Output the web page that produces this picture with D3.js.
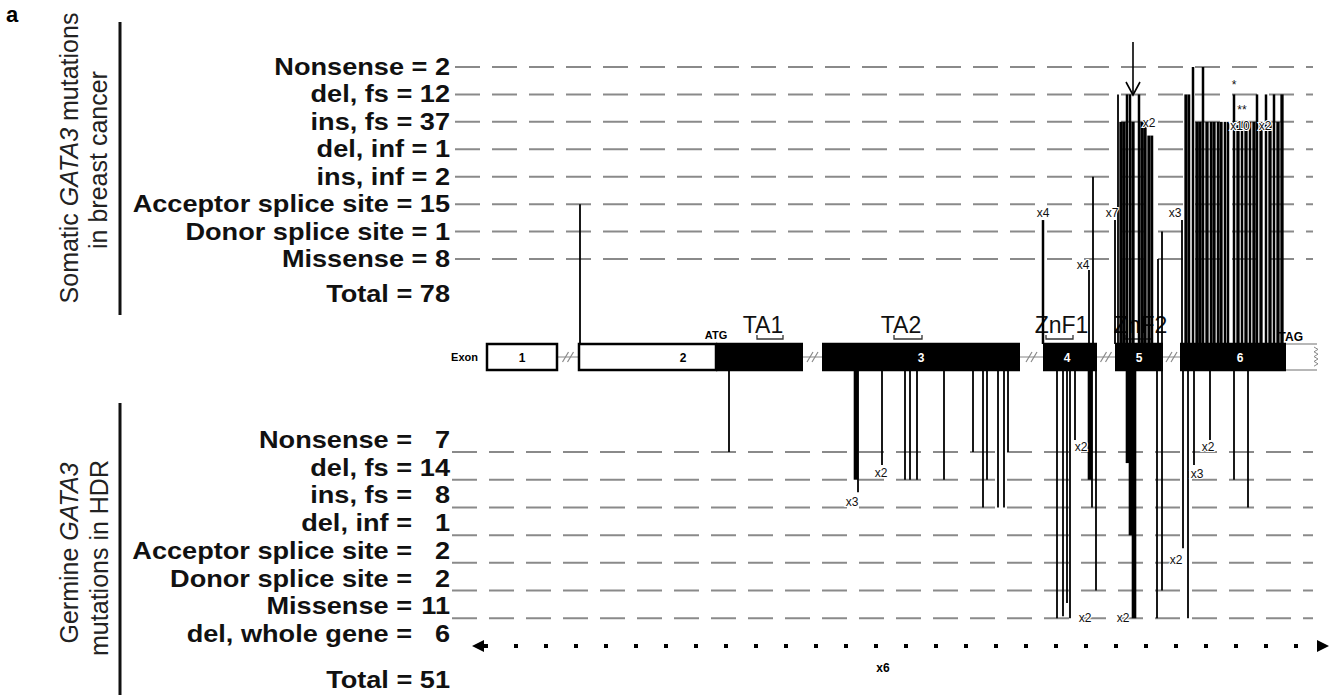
<!DOCTYPE html>
<html>
<head>
<meta charset="utf-8">
<script src="https://cdn.jsdelivr.net/npm/d3@7"></script>
<style>
  body { margin: 0; background: #fff; }
  svg { display: block; font-family: Arial, "Liberation Sans", sans-serif; }
</style>
</head>
<body>
<script>
// mutation classes and counts
const somaticTypes = ["Nonsense", "del, fs", "ins, fs", "del, inf", "ins, inf", "Acceptor splice site", "Donor splice site", "Missense"];
const somaticCounts = [2, 12, 37, 1, 2, 15, 1, 8];
const germlineTypes = ["Nonsense", "del, fs", "ins, fs", "del, inf", "Acceptor splice site", "Donor splice site", "Missense", "del, whole gene"];
const germlineCounts = [7, 14, 8, 1, 2, 2, 11, 6];

// gene structure (position along the drawn gene, 0-830)
const exonNames = ["1", "2", "3", "4", "5", "6"];
const exonStart = [0, 92, 335, 556, 628, 693];
const exonEnd = [70, 316, 533, 610, 676, 830];
const codingStart = [null, 229, 335, 556, 628, 693];
const codingEnd = [null, 316, 533, 610, 676, 799];
const exonLabelPos = [35, 196, 434, 580, 652, 753];

const domainNames = ["TA1", "TA2", "ZnF1", "ZnF2"];
const domainStart = [270, 407, 559, 638];
const domainEnd = [296, 435, 586, 665];

// somatic mutations : position, level reached (1 = Missense ... 8 = Nonsense), number of hits
const somaticPos = [93, 556, 602, 606,
  628, 631, 634, 637, 640, 643, 646, 652, 655, 658, 662, 665, 671, 675,
  695, 699, 702, 706, 710, 713, 716, 720, 724, 727, 731, 734, 738, 741, 747,
  751, 755, 759, 763, 767, 770, 774, 779, 783, 787, 791, 795];
const somaticLevel = [3, 2.42, 0.6, 4,
  2.42, 7, 6, 6, 7, 7, 6, 7, 6, 6, 5.5, 5.5, 1, 2,
  2.42, 7, 7, 8, 6, 6, 8, 6, 6, 6, 6, 6, 6, 6, 7,
  6, 6, 6, 6, 6, 7, 6, 7, 6, 7, 6, 7];
const somaticN = [1, 2, 1, 1,
  1, 1, 3, 3, 2, 2, 3, 2, 3, 3, 3, 2, 1, 1,
  1, 3, 2, 2, 3, 3, 2, 3, 2, 3, 2, 3, 2, 2, 2,
  3, 2, 3, 2, 3, 2, 3, 2, 3, 2, 3, 3];

// germline mutations : position, level reached (1 = Nonsense ... 7 = Missense), number of hits
const germlinePos = [242, 369, 371, 395, 418, 423, 430, 457, 486, 496, 500, 511, 517, 521,
  570, 576, 580, 583, 588, 603, 605, 609,
  641, 644, 647, 670, 675,
  696, 701, 707, 723, 747, 761];
const germlineLevel = [1, 2, 2.45, 1.47, 2, 2, 2, 2, 1, 3, 2, 3, 3, 1,
  7, 6.93, 6.45, 7, 0.57, 2, 3, 6,
  1.4, 4, 7, 7, 6,
  4.47, 7, 1.47, 0.57, 2, 3];
const germlineN = [1, 3, 1, 1, 1, 1, 1, 1, 1, 1, 1, 1, 1, 1,
  1, 1, 1, 1, 1, 3, 1, 1,
  3, 3, 3, 1, 1,
  1, 1, 1, 1, 1, 1];

// recurrence notes
const somaticNotePos = [556, 596, 625, 662, 688, 753, 778, 747, 755];
const somaticNoteLevel = [2.53, 0.64, 2.53, 5.8, 2.53, 5.7, 5.7, 7.2, 6.3];
const somaticNoteText = ["x4", "x4", "x7", "x2", "x3", "x10", "x2", "*", "**"];
const germlineNotePos = [365, 394, 594, 598, 636, 689, 710, 721];
const germlineNoteLevel = [2.95, 1.9, 0.97, 7.14, 7.14, 5.05, 1.94, 0.97];
const germlineNoteText = ["x3", "x2", "x2", "x2", "x2", "x2", "x3", "x2"];

const W = 1338, H = 697;
const svg = d3.select("body").append("svg").attr("width", W).attr("height", H);

const x = d3.scaleLinear().domain([0, 830]).range([487, 1317]);
const yTop = d3.scaleLinear().domain([1, 8]).range([259, 67]);
const yBot = d3.scaleLinear().domain([1, 8]).range([452, 646]);
const barW = d3.scaleOrdinal().domain([1, 2, 3]).range([1.8, 2.5, 3.3]);
const exonTop = 344, exonBot = 370, exonMid = (exonTop + exonBot) / 2;

// panel letter
svg.append("text").attr("x", 6).attr("y", 22).attr("font-size", 22).attr("font-weight", "bold").text("a");

// rotated titles
function rotTitle(cx, cy, parts) {
  let t = svg.append("text")
    .attr("transform", `translate(${cx},${cy}) rotate(-90)`)
    .attr("text-anchor", "middle").attr("font-size", 25).attr("fill", "#222");
  parts.forEach(p => t.append("tspan").attr("font-style", p[1] ? "italic" : null).text(p[0]));
}
rotTitle(78, 158, [["Somatic "], ["GATA3", true], [" mutations"]]);
rotTitle(107, 160, [["in breast cancer"]]);
rotTitle(78, 553, [["Germine "], ["GATA3", true]]);
rotTitle(108, 558, [["mutations in HDR"]]);

svg.append("line").attr("x1", 120).attr("x2", 120).attr("y1", 22).attr("y2", 315).attr("stroke", "#111").attr("stroke-width", 3);
svg.append("line").attr("x1", 120).attr("x2", 120).attr("y1", 403).attr("y2", 695).attr("stroke", "#111").attr("stroke-width", 3);

// dashed reference lines
svg.append("g").selectAll("line").data(d3.range(1, 9)).join("line")
  .attr("x1", 455).attr("x2", 1313)
  .attr("y1", d => yTop(d)).attr("y2", d => yTop(d))
  .attr("stroke", "#8a8a8a").attr("stroke-width", 2).attr("stroke-dasharray", "25 12");
svg.append("g").selectAll("line").data(d3.range(1, 8)).join("line")
  .attr("x1", 452).attr("x2", 1313)
  .attr("y1", d => yBot(d)).attr("y2", d => yBot(d))
  .attr("stroke", "#8a8a8a").attr("stroke-width", 2).attr("stroke-dasharray", "25 12");

// category labels (wide bold type)
const sx = 1.18;
somaticTypes.forEach((t, i) => {
  let g = svg.append("g").attr("transform", `translate(450,${yTop(8 - i) + 8}) scale(${sx},1)`);
  g.append("text").attr("text-anchor", "end").attr("font-size", 23).attr("font-weight", "bold")
    .attr("fill", "#111").text(t + " = " + somaticCounts[i]);
});
svg.append("g").attr("transform", `translate(450,302) scale(${sx},1)`)
  .append("text").attr("text-anchor", "end").attr("font-size", 23).attr("font-weight", "bold")
  .attr("fill", "#111").text("Total = " + d3.sum(somaticCounts));

germlineTypes.forEach((t, i) => {
  let g = svg.append("g").attr("transform", `translate(450,${yBot(i + 1) - 4}) scale(${sx},1)`);
  g.append("text").attr("x", (412 - 450) / sx).attr("text-anchor", "end").attr("font-size", 23)
    .attr("font-weight", "bold").attr("fill", "#111").text(t + " =");
  g.append("text").attr("text-anchor", "end").attr("font-size", 23)
    .attr("font-weight", "bold").attr("fill", "#111").text(germlineCounts[i]);
});
svg.append("g").attr("transform", `translate(450,688) scale(${sx},1)`)
  .append("text").attr("text-anchor", "end").attr("font-size", 23).attr("font-weight", "bold")
  .attr("fill", "#111").text("Total = " + d3.sum(germlineCounts));

// introns with break marks
const gene = svg.append("g");
for (let i = 0; i < exonNames.length - 1; i++) {
  let a = x(exonEnd[i]), b = x(exonStart[i + 1]), m = (a + b) / 2;
  gene.append("line").attr("x1", a).attr("x2", b).attr("y1", exonMid).attr("y2", exonMid)
    .attr("stroke", "#999").attr("stroke-width", 1.2);
  [-2.5, 2.5].forEach(o => gene.append("line")
    .attr("x1", m + o - 3).attr("x2", m + o + 3).attr("y1", exonMid + 5).attr("y2", exonMid - 5)
    .attr("stroke", "#888").attr("stroke-width", 1.2));
}
gene.append("text").attr("x", 478).attr("y", exonMid + 4).attr("text-anchor", "end")
  .attr("font-size", 11).attr("font-weight", "bold").text("Exon");

// domains and codons (drawn before the bars so they sit underneath)
domainNames.forEach((d, i) => {
  let a = x(domainStart[i]), b = x(domainEnd[i]), c = (a + b) / 2;
  gene.append("text").attr("x", c + (i < 2 ? -7 : 2)).attr("y", 333).attr("text-anchor", "middle")
    .attr("font-size", 23).attr("fill", "#111").text(d);
  gene.append("path").attr("d", `M${a},335 V339 H${b} V335`).attr("fill", "none")
    .attr("stroke", "#333").attr("stroke-width", 1.3);
});
gene.append("text").attr("x", x(codingStart[1])).attr("y", 339).attr("text-anchor", "middle")
  .attr("font-size", 11).attr("font-weight", "bold").text("ATG");
gene.append("text").attr("x", x(codingEnd[5]) + 17).attr("y", 341).attr("text-anchor", "end")
  .attr("font-size", 12).attr("font-weight", "bold").text("TAG");

// somatic bars
svg.append("g").selectAll("line")
  .data(somaticPos.map((p, i) => ({ p, lv: somaticLevel[i], n: somaticN[i] })))
  .join("line")
  .attr("x1", d => x(d.p)).attr("x2", d => x(d.p))
  .attr("y1", exonTop).attr("y2", d => yTop(d.lv))
  .attr("stroke", "#000").attr("stroke-width", d => barW(d.n));

// germline bars
svg.append("g").selectAll("line")
  .data(germlinePos.map((p, i) => ({ p, lv: germlineLevel[i], n: germlineN[i] })))
  .join("line")
  .attr("x1", d => x(d.p)).attr("x2", d => x(d.p))
  .attr("y1", exonBot).attr("y2", d => yBot(d.lv))
  .attr("stroke", "#000").attr("stroke-width", d => barW(d.n) * (d.n > 1 ? 1.4 : 1));

// exons
const ex = svg.append("g");
exonNames.forEach((n, i) => {
  let s = exonStart[i], e = exonEnd[i], cs = codingStart[i], ce = codingEnd[i];
  if (cs === null) {
    ex.append("rect").attr("x", x(s)).attr("y", exonTop).attr("width", x(e) - x(s)).attr("height", exonBot - exonTop)
      .attr("fill", "#fff").attr("stroke", "#000").attr("stroke-width", 2.5);
  } else {
    if (cs > s) {
      ex.append("rect").attr("x", x(s)).attr("y", exonTop).attr("width", x(cs) - x(s)).attr("height", exonBot - exonTop)
        .attr("fill", "#fff").attr("stroke", "#000").attr("stroke-width", 2.5);
    }
    ex.append("rect").attr("x", x(cs)).attr("y", exonTop - 1.25).attr("width", x(ce) - x(cs)).attr("height", exonBot - exonTop + 2.5)
      .attr("fill", "#000");
    if (ce < e) {
      // 3' UTR, open ended
      ex.append("line").attr("x1", x(ce)).attr("x2", x(e)).attr("y1", exonTop).attr("y2", exonTop).attr("stroke", "#888").attr("stroke-width", 1.2);
      ex.append("line").attr("x1", x(ce)).attr("x2", x(e)).attr("y1", exonBot).attr("y2", exonBot).attr("stroke", "#888").attr("stroke-width", 1.2);
      let zz = d3.range(0, 9).map(k => [x(e) - 2 + (k % 2 ? 3 : -1), exonTop + 3 + k * 2.4]);
      ex.append("path").attr("d", d3.line()(zz)).attr("fill", "none").attr("stroke", "#888").attr("stroke-width", 1);
    }
  }
  let white = cs === null || exonLabelPos[i] < cs;
  ex.append("text").attr("x", x(exonLabelPos[i])).attr("y", exonMid + 4.5).attr("text-anchor", "middle")
    .attr("font-size", 12).attr("font-weight", "bold").attr("fill", white ? "#000" : "#fff").text(n);
});

// recurrence notes (white halo so they stay readable over the bars)
function notes(texts, pos, levels, yScale) {
  svg.append("g").selectAll("text")
    .data(texts.map((t, i) => ({ t, p: pos[i], lv: levels[i] })))
    .join("text")
    .attr("x", d => x(d.p)).attr("y", d => yScale(d.lv)).attr("text-anchor", "middle")
    .attr("font-size", 12).attr("fill", "#111")
    .attr("stroke", "#fff").attr("stroke-width", 2.2).attr("paint-order", "stroke")
    .text(d => d.t);
}
notes(somaticNoteText, somaticNotePos, somaticNoteLevel, yTop);
notes(germlineNoteText, germlineNotePos, germlineNoteLevel, yBot);

// arrow pointing at the hotspot in exon 5
const hot = x(646);
svg.append("line").attr("x1", hot).attr("x2", hot).attr("y1", 42).attr("y2", 94).attr("stroke", "#000").attr("stroke-width", 1.6);
svg.append("path").attr("d", `M${hot - 7},82 L${hot},95 L${hot + 7},82`).attr("fill", "none").attr("stroke", "#000").attr("stroke-width", 1.6);

// whole gene deletions
const yDel = yBot(8);
svg.append("line").attr("x1", 484).attr("x2", 1318).attr("y1", yDel).attr("y2", yDel)
  .attr("stroke", "#000").attr("stroke-width", 4).attr("stroke-dasharray", "4 26");
svg.append("path").attr("d", `M472,${yDel} L484,${yDel - 6} L484,${yDel + 6} Z`).attr("fill", "#000");
svg.append("path").attr("d", `M1329,${yDel} L1317,${yDel - 6} L1317,${yDel + 6} Z`).attr("fill", "#000");
svg.append("text").attr("x", 883).attr("y", 672).attr("text-anchor", "middle").attr("font-size", 12)
  .attr("font-weight", "bold").text("x" + germlineCounts[7]);
</script>
</body>
</html>
